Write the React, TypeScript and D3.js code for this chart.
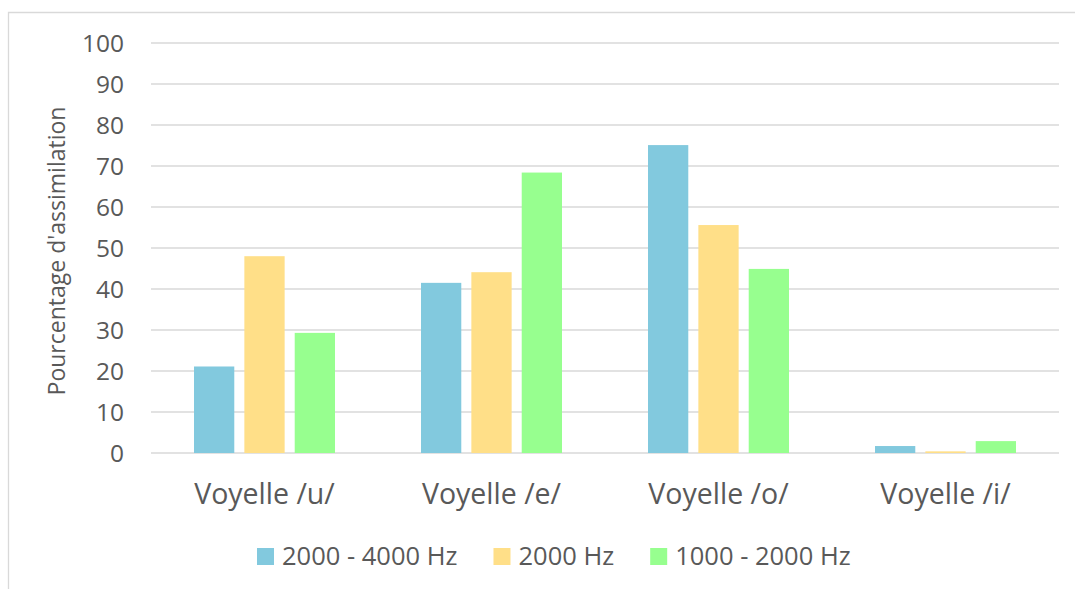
import React, { useEffect, useRef } from "react";
import * as d3 from "d3";

const categories = ["Voyelle /u/", "Voyelle /e/", "Voyelle /o/", "Voyelle /i/"];
const seriesNames = ["2000 - 4000 Hz", "2000 Hz", "1000 - 2000 Hz"];
const seriesColors = ["#82C9DE", "#FFDF88", "#97FF8F"];
const s1 = [21.1, 41.5, 75.1, 1.7];
const s2 = [48.0, 44.1, 55.6, 0.4];
const s3 = [29.3, 68.4, 44.9, 2.9];
const yTicks = [0, 10, 20, 30, 40, 50, 60, 70, 80, 90, 100];
const yLabel = "Pourcentage d'assimilation";

const W = 1075;
const H = 589;
const FONT = "'Open Sans', sans-serif";
const TXT = "#595959";

export default function App() {
  const ref = useRef<SVGSVGElement | null>(null);

  useEffect(() => {
    const svg = d3.select(ref.current);
    svg.selectAll("*").remove();
    const series = [s1, s2, s3];

    const x0 = d3.scaleBand<string>().domain(categories).range([151, 1059]).padding(0);
    const groupW = 141;
    const x1 = d3
      .scaleBand<number>()
      .domain([0, 1, 2])
      .range([0, groupW])
      .paddingInner(0.2);
    const y = d3.scaleLinear().domain([0, 100]).range([453, 43]);

    svg
      .append("path")
      .attr("d", `M8.5,${H + 5} L8.5,12.5 L${W + 5},12.5`)
      .attr("fill", "none")
      .attr("stroke", "#D9D9D9")
      .attr("stroke-width", 1.3);

    svg
      .append("g")
      .selectAll("line")
      .data(yTicks)
      .join("line")
      .attr("x1", 151)
      .attr("x2", 1059)
      .attr("y1", (d) => y(d))
      .attr("y2", (d) => y(d))
      .attr("stroke", "#D9D9D9")
      .attr("stroke-width", 1.4);

    svg
      .append("g")
      .selectAll("text")
      .data(yTicks)
      .join("text")
      .attr("x", 124)
      .attr("y", (d) => y(d))
      .attr("dy", "0.36em")
      .attr("text-anchor", "end")
      .attr("font-family", FONT)
      .attr("font-size", 24.5)
      .attr("fill", TXT)
      .text((d) => String(d));

    svg
      .append("text")
      .attr("transform", `translate(65,251) rotate(-90)`)
      .attr("text-anchor", "middle")
      .attr("font-family", FONT)
      .attr("font-size", 23)
      .attr("fill", TXT)
      .text(yLabel);

    const off = (x0.bandwidth() - groupW) / 2;
    series.forEach((vals, si) => {
      svg
        .append("g")
        .selectAll("rect")
        .data(vals)
        .join("rect")
        .attr("x", (_d, i) => (x0(categories[i]) as number) + off + (x1(si) as number))
        .attr("width", x1.bandwidth())
        .attr("y", (d) => y(d))
        .attr("height", (d) => y(0) - y(d))
        .attr("fill", seriesColors[si]);
    });

    svg
      .append("g")
      .selectAll("text")
      .data(categories)
      .join("text")
      .attr("x", (d) => (x0(d) as number) + x0.bandwidth() / 2)
      .attr("y", 504)
      .attr("text-anchor", "middle")
      .attr("font-family", FONT)
      .attr("font-size", 28.5)
      .attr("fill", TXT)
      .text((d) => d);

    let lx = 257;
    const lg = svg.append("g");
    seriesNames.forEach((name, i) => {
      lg.append("rect")
        .attr("x", lx)
        .attr("y", 548)
        .attr("width", 17)
        .attr("height", 17)
        .attr("fill", seriesColors[i]);
      const t = lg
        .append("text")
        .attr("x", lx + 25)
        .attr("y", 565)
        .attr("font-family", FONT)
        .attr("font-size", 25.5)
        .attr("fill", TXT)
        .text(name);
      const tw = (t.node() as SVGTextElement).getComputedTextLength();
      lx += 25 + tw + 36;
    });
  }, []);

  return (
    <svg
      ref={ref}
      width={W}
      height={H}
      style={{ position: "absolute", left: 0, top: 0, background: "#fff" }}
    />
  );
}
